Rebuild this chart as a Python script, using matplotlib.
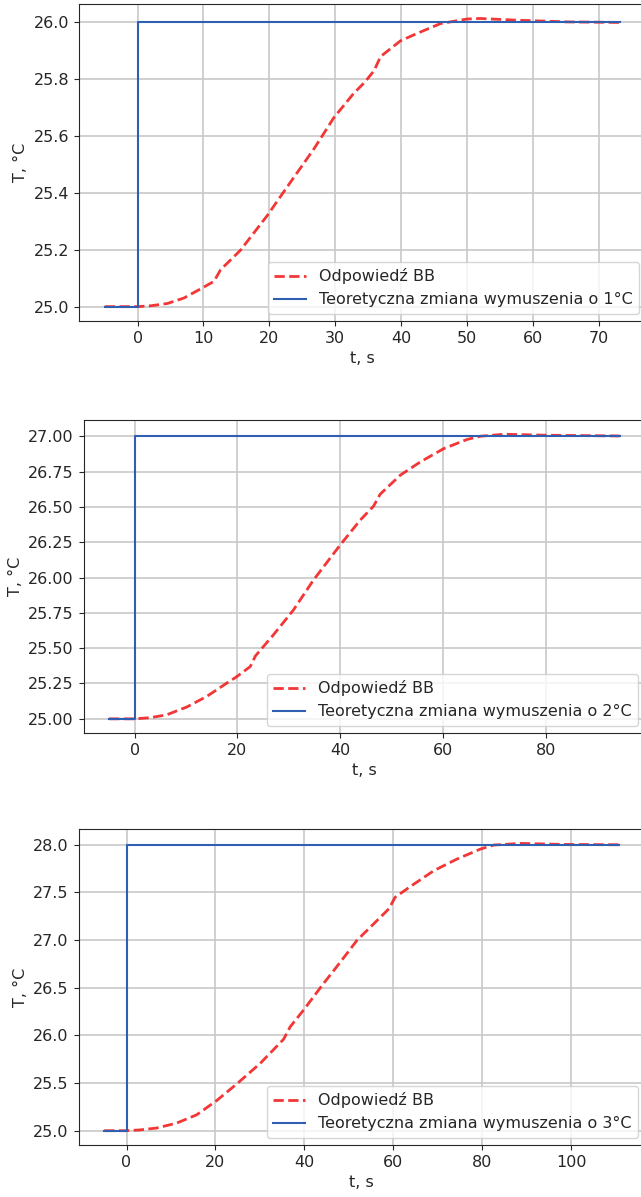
import matplotlib
matplotlib.use("Agg")
import matplotlib.pyplot as plt

# Odpowiedz BB - skok 1 stopien
t_bb1 = [-5, 0, 2, 4.5, 7, 9.6, 11.6, 12.6, 15.6, 19.7, 22.7, 26.8, 29.8, 32.8,
         34.5, 35.9, 36.9, 39.9, 42.4, 46.0, 50.0, 52.0, 57.6, 65.2, 73.3]
T_bb1 = [25.0, 25.0, 25.003, 25.011, 25.030, 25.063, 25.089, 25.130, 25.198,
         25.321, 25.421, 25.556, 25.665, 25.750, 25.790, 25.830, 25.880, 25.935,
         25.961, 25.996, 26.012, 26.014, 26.008, 26.002, 26.0]
t_step1 = [-5, 0, 0, 73.3]
T_step1 = [25.0, 25.0, 26.0, 26.0]

# skok 2 stopnie
t_bb2 = [-5, 0, 3, 6.2, 10.1, 14.0, 17.9, 19.9, 22.5, 23.5, 27.0, 30.9, 34.8,
         40.0, 43.9, 46.5, 47.8, 51.7, 55.6, 60.2, 64.7, 67.3, 71.9, 80.3, 94.4]
T_bb2 = [25.0, 25.0, 25.008, 25.028, 25.083, 25.158, 25.252, 25.299, 25.370,
         25.445, 25.594, 25.770, 25.982, 26.230, 26.406, 26.505, 26.590, 26.724,
         26.818, 26.913, 26.977, 27.0, 27.014, 27.007, 27.002]
t_step2 = [-5, 0, 0, 94.4]
T_step2 = [25.0, 25.0, 27.0, 27.0]

# skok 3 stopnie
t_bb3 = [-5, 0, 3, 6.8, 11.3, 15.8, 20.3, 24.8, 30.1, 35.3, 36.8, 39.8, 44.3,
         48.1, 51.8, 55.6, 59.0, 60.4, 63.8, 69.1, 74.3, 79.6, 82.6, 88.6, 98.3, 110.8]
T_bb3 = [25.0, 25.0, 25.008, 25.028, 25.08, 25.167, 25.317, 25.491, 25.708,
         25.958, 26.09, 26.265, 26.544, 26.770, 26.996, 27.171, 27.328, 27.449,
         27.561, 27.728, 27.850, 27.955, 27.997, 28.014, 28.003, 28.0]
t_step3 = [-5, 0, 0, 110.8]
T_step3 = [25.0, 25.0, 28.0, 28.0]

amplitudes = [1, 2, 3]

plt.rcParams["font.size"] = 11.5
plt.rcParams["text.color"] = "#262626"
plt.rcParams["axes.labelcolor"] = "#262626"
plt.rcParams["xtick.color"] = "#262626"
plt.rcParams["ytick.color"] = "#262626"
plt.rcParams["axes.edgecolor"] = "#262626"

fig = plt.figure(figsize=(6.41, 11.97), dpi=100)

positions = [
    [0.1232, 0.7318, 0.8846, 0.2648],
    [0.1303, 0.3876, 0.8760, 0.2615],
    [0.1225, 0.0434, 0.8838, 0.2640],
]
panels = [
    (t_bb1, T_bb1, t_step1, T_step1),
    (t_bb2, T_bb2, t_step2, T_step2),
    (t_bb3, T_bb3, t_step3, T_step3),
]

for pos, (tb, Tb, ts, Ts), amp in zip(positions, panels, amplitudes):
    ax = fig.add_axes(pos)
    ax.plot(tb, Tb, "--", color="#f22020", alpha=0.9, linewidth=2,
            label="Odpowiedź BB")
    ax.plot(ts, Ts, "-", color="#2f5fb0", linewidth=1.5,
            label=f"Teoretyczna zmiana wymuszenia o {amp}°C")
    ax.grid(True, color="#c8c8c8", linewidth=1.2)
    ax.set_axisbelow(True)
    ax.set_xlabel("t, s")
    ax.set_ylabel("T, °C")
    ax.legend(loc="lower right", borderaxespad=0.45)

fig.savefig("out.png", dpi=100)
